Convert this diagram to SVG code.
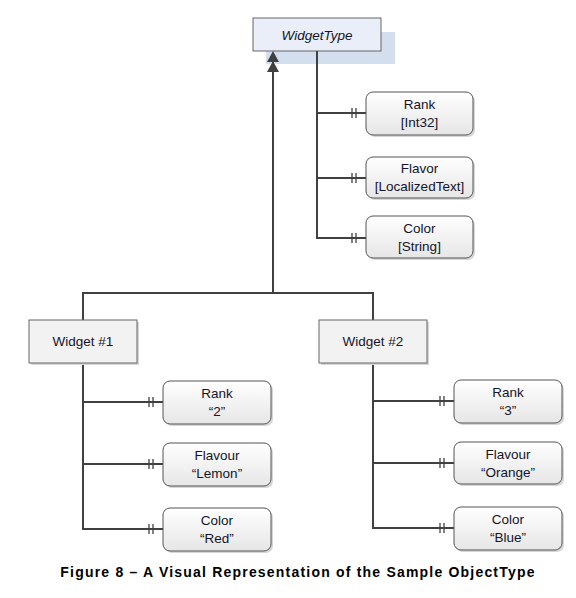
<svg xmlns="http://www.w3.org/2000/svg" width="576" height="598" viewBox="0 0 576 598">
<style>
.t{font-family:"Liberation Sans",Arial,sans-serif;font-size:13.5px;fill:#14142a;text-anchor:middle}
.cap{font-family:"Liberation Sans",Arial,sans-serif;font-size:14px;font-weight:bold;fill:#000;text-anchor:middle;letter-spacing:1.2px}
.ln{stroke:#404040;stroke-width:2;fill:none}
.tk{stroke:#404040;stroke-width:1.3}
.pr{fill:url(#g);stroke:#555;stroke-width:1}
.sh{fill:#d6d6d6}
.obj{fill:#f2f2f2;stroke:#666;stroke-width:1}
</style>
<defs>
<linearGradient id="g" x1="0" y1="0" x2="0" y2="1"><stop offset="0" stop-color="#ffffff"/><stop offset="1" stop-color="#e6e6e6"/></linearGradient>
</defs>
<rect width="576" height="598" fill="#fff"/>
<g id="widgetType">
<rect x="266" y="32" width="129" height="32" fill="#d3deef"/>
<rect x="253" y="18" width="128" height="33" fill="#e9eef8" stroke="#666" stroke-width="1"/>
<text class="t" x="317" y="40" font-style="italic" font-size="14">WidgetType</text>
</g>
<g id="connectors">
<path class="ln" d="M273 293V60M83 320V293H373V320"/>
<polygon points="273,51 267,62 279,62" fill="#404040"/>
<polygon points="273,61 267,72 279,72" fill="#404040"/>
<path class="ln" d="M317 51V238H366M317 113H366M317 178H366"/>
<path class="ln" d="M83 363V529H163M83 402H163M83 464H163"/>
<path class="ln" d="M373 363V528H454M373 401H454M373 463H454"/>
<g class="tk">
<path d="M352 108V118M356 108V118M352 173V183M356 173V183M352 233V243M356 233V243"/>
<path d="M149 397V407M153 397V407M149 459V469M153 459V469M149 524V534M153 524V534"/>
<path d="M440 396V406M444 396V406M440 458V468M444 458V468M440 523V533M444 523V533"/>
</g>
</g>
<g id="typeRank">
<rect class="sh" x="368" y="94" width="107" height="43" rx="7"/>
<rect class="pr" x="366" y="92" width="107" height="43" rx="7"/>
<text class="t" x="419.5" y="109">Rank</text><text class="t" x="419.5" y="127">[Int32]</text>
</g>
<g id="typeFlavor">
<rect class="sh" x="368" y="159" width="107" height="41" rx="7"/>
<rect class="pr" x="366" y="157" width="107" height="41" rx="7"/>
<text class="t" x="419.5" y="173">Flavor</text><text class="t" x="419.5" y="191">[LocalizedText]</text>
</g>
<g id="typeColor">
<rect class="sh" x="368" y="218" width="107" height="42" rx="7"/>
<rect class="pr" x="366" y="216" width="107" height="42" rx="7"/>
<text class="t" x="419.5" y="233">Color</text><text class="t" x="419.5" y="251">[String]</text>
</g>
<g id="widget1">
<rect class="sh" x="31" y="322" width="108" height="43"/>
<rect class="obj" x="29" y="320" width="108" height="43"/>
<text class="t" x="83" y="346">Widget #1</text>
</g>
<g id="w1Rank">
<rect class="sh" x="165" y="383" width="108" height="43" rx="7"/>
<rect class="pr" x="163" y="381" width="108" height="43" rx="7"/>
<text class="t" x="217" y="398">Rank</text><text class="t" x="217" y="416">“2”</text>
</g>
<g id="w1Flavour">
<rect class="sh" x="165" y="445" width="108" height="43" rx="7"/>
<rect class="pr" x="163" y="443" width="108" height="43" rx="7"/>
<text class="t" x="217" y="460">Flavour</text><text class="t" x="217" y="478">“Lemon”</text>
</g>
<g id="w1Color">
<rect class="sh" x="165" y="510" width="108" height="43" rx="7"/>
<rect class="pr" x="163" y="508" width="108" height="43" rx="7"/>
<text class="t" x="217" y="525">Color</text><text class="t" x="217" y="543">“Red”</text>
</g>
<g id="widget2">
<rect class="sh" x="321" y="322" width="108" height="43"/>
<rect class="obj" x="319" y="320" width="108" height="43"/>
<text class="t" x="373" y="346">Widget #2</text>
</g>
<g id="w2Rank">
<rect class="sh" x="456" y="382" width="108" height="43" rx="7"/>
<rect class="pr" x="454" y="380" width="108" height="43" rx="7"/>
<text class="t" x="508" y="397">Rank</text><text class="t" x="508" y="415">“3”</text>
</g>
<g id="w2Flavour">
<rect class="sh" x="456" y="444" width="108" height="42" rx="7"/>
<rect class="pr" x="454" y="442" width="108" height="42" rx="7"/>
<text class="t" x="508" y="459">Flavour</text><text class="t" x="508" y="477">“Orange”</text>
</g>
<g id="w2Color">
<rect class="sh" x="456" y="509" width="108" height="43" rx="7"/>
<rect class="pr" x="454" y="507" width="108" height="43" rx="7"/>
<text class="t" x="508" y="524">Color</text><text class="t" x="508" y="542">“Blue”</text>
</g>
<text class="cap" x="298" y="577">Figure 8 – A Visual Representation of the Sample ObjectType</text>
</svg>
